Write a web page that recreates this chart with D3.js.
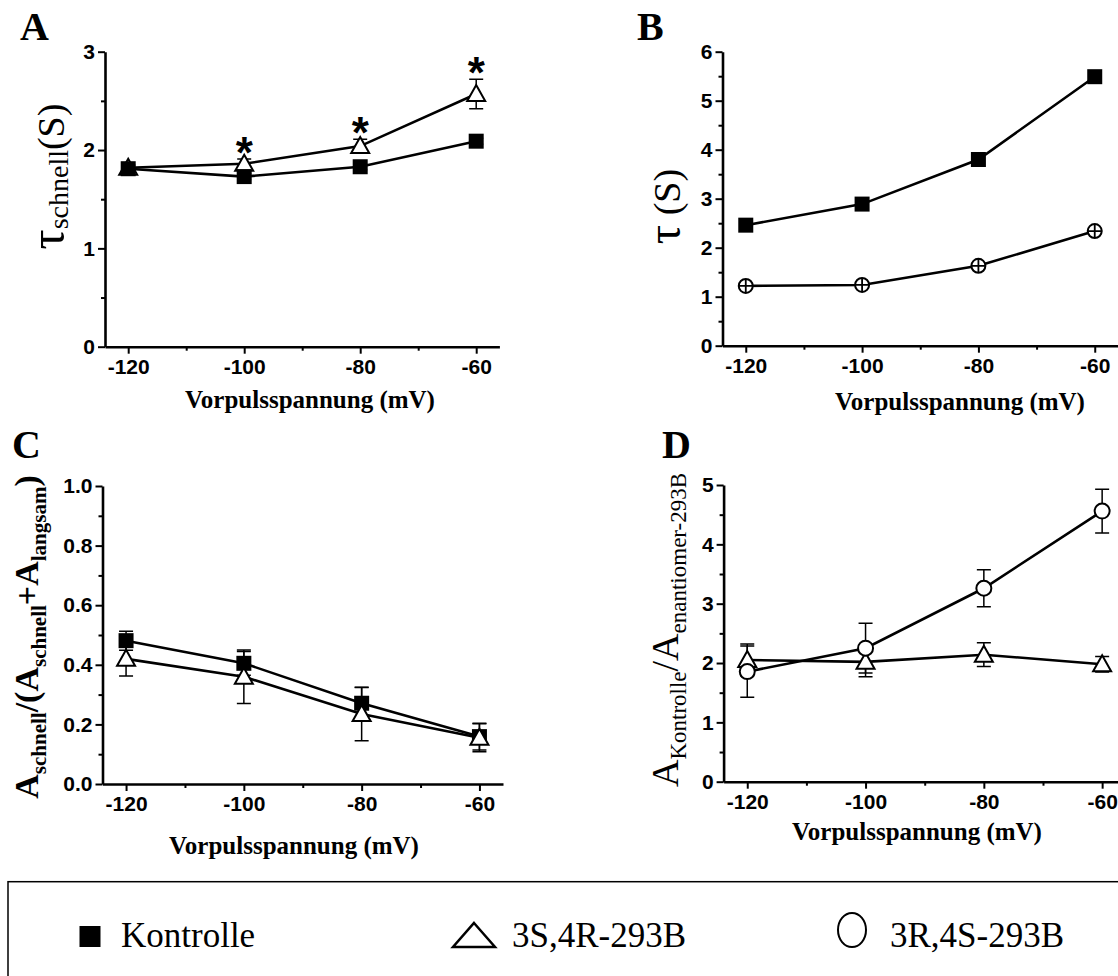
<!DOCTYPE html>
<html><head><meta charset="utf-8">
<script src="https://cdn.jsdelivr.net/npm/d3@7"></script>
<style>body{margin:0;background:#fff}svg{display:block}</style>
</head><body><svg id="c" width="1118" height="976"></svg>
<script>
// ---------- data ----------
const voltages = [-120, -100, -80, -60];
const xTicks = [-120, -100, -80, -60];
const xMinorTicks = [-110, -90, -70];
const xTitle = "Vorpulsspannung (mV)";

// Panel A: tau schnell (s)
const aKontrolle = [1.81, 1.73, 1.83, 2.09];
const aKontrolleErr = [0.03, 0.03, 0.03, 0.03];
const a3S4R = [1.82, 1.86, 2.04, 2.57];
const a3S4RErr = [0.03, 0.05, 0.07, 0.15];
const aSignificant = [false, true, true, true];
const aYTicks = [0, 1, 2, 3];
const aYMinor = [0.5, 1.5, 2.5];

// Panel B: tau (s)
const bKontrolle = [2.46, 2.89, 3.80, 5.49];
const bEnantiomer = [1.22, 1.24, 1.63, 2.34];
const bYTicks = [0, 1, 2, 3, 4, 5, 6];
const bYMinor = [0.5, 1.5, 2.5, 3.5, 4.5, 5.5];

// Panel C: A schnell / (A schnell + A langsam)
const cKontrolle = [0.481, 0.405, 0.271, 0.159];
const cKontrolleErr = [0.032, 0.040, 0.053, 0.045];
const c3S4R = [0.420, 0.360, 0.235, 0.155];
const c3S4RErr = [0.058, 0.090, 0.090, 0.047];
const cYTicks = [0, 0.2, 0.4, 0.6, 0.8, 1.0];
const cYMinor = [0.1, 0.3, 0.5, 0.7, 0.9];

// Panel D: A Kontrolle / A enantiomer-293B
const d3S4R = [2.05, 2.02, 2.14, 1.98];
const d3S4RErr = [0.27, 0.25, 0.20, 0.13];
const d3R4S = [1.855, 2.25, 3.26, 4.56];
const d3R4SErr = [0.43, 0.42, 0.31, 0.37];
const dYTicks = [0, 1, 2, 3, 4, 5];
const dYMinor = [0.5, 1.5, 2.5, 3.5, 4.5];

const legendLabels = ["Kontrolle", "3S,4R-293B", "3R,4S-293B"];

// ---------- drawing ----------
const svg = d3.select("#c");
const SANS = "'Liberation Sans', Arial, sans-serif";
const SERIF = "'Liberation Serif', 'Times New Roman', serif";

function drawMarker(g, type, cx, cy) {
  if (type === "square") {
    g.append("rect").attr("x", cx - 7.5).attr("y", cy - 7.5).attr("width", 15).attr("height", 15).attr("fill", "#000");
  } else if (type === "triangle") {
    g.append("path").attr("d", `M${cx},${cy - 9}L${cx + 9},${cy + 7}L${cx - 9},${cy + 7}Z`)
      .attr("fill", "#fff").attr("stroke", "#000").attr("stroke-width", 2);
  } else if (type === "circle") {
    g.append("circle").attr("cx", cx).attr("cy", cy).attr("r", 7.5)
      .attr("fill", "#fff").attr("stroke", "#000").attr("stroke-width", 2);
  } else if (type === "oplus") {
    g.append("circle").attr("cx", cx).attr("cy", cy).attr("r", 7)
      .attr("fill", "#fff").attr("stroke", "#000").attr("stroke-width", 2);
    g.append("path").attr("d", `M${cx - 7},${cy}H${cx + 7}M${cx},${cy - 7}V${cy + 7}`)
      .attr("stroke", "#000").attr("stroke-width", 1.8);
  }
}

function styleAxis(sel) {
  sel.attr("font-family", SANS).attr("font-size", 21).attr("font-weight", "bold");
  sel.selectAll(".domain").attr("stroke-width", 2.6);
  sel.selectAll(".tick line").attr("stroke-width", 2);
  sel.selectAll(".tick text").attr("fill", "#000");
}

function panel(cfg) {
  const g = svg.append("g");
  const x = d3.scaleLinear().domain([-124, -56]).range(cfg.xr);
  const y = d3.scaleLinear().domain(cfg.yd).range(cfg.yr);
  const y0 = cfg.yr[0];
  const x0 = cfg.xr[0];

  // minor ticks
  g.append("g").attr("transform", `translate(0,${y0})`)
    .call(d3.axisBottom(x).tickValues(xMinorTicks).tickSize(4).tickFormat(""))
    .call(s => { s.select(".domain").remove(); s.selectAll("line").attr("stroke-width", 2); });
  g.append("g").attr("transform", `translate(${x0},0)`)
    .call(d3.axisLeft(y).tickValues(cfg.yMinor).tickSize(4).tickFormat(""))
    .call(s => { s.select(".domain").remove(); s.selectAll("line").attr("stroke-width", 2); });
  // major axes
  g.append("g").attr("transform", `translate(0,${y0})`)
    .call(d3.axisBottom(x).tickValues(xTicks).tickSize(7).tickPadding(5).tickSizeOuter(0).tickFormat(d => String(d)))
    .call(styleAxis);
  g.append("g").attr("transform", `translate(${x0},0)`)
    .call(d3.axisLeft(y).tickValues(cfg.yTicks).tickSize(7).tickPadding(3).tickSizeOuter(0).tickFormat(cfg.fmt))
    .call(styleAxis);

  const line = d3.line().x((d, i) => x(voltages[i])).y(d => y(d));
  // error bars
  cfg.series.forEach(s => {
    if (!s.err) return;
    s.values.forEach((v, i) => {
      const cx = x(voltages[i]);
      const t = y(v + s.err[i]), b = y(v - s.err[i]);
      g.append("path").attr("d", `M${cx},${t}V${b}M${cx - 7},${t}H${cx + 7}M${cx - 7},${b}H${cx + 7}`)
        .attr("stroke", "#000").attr("stroke-width", 1.5).attr("fill", "none");
    });
  });
  // lines
  cfg.series.forEach(s => {
    g.append("path").datum(s.values).attr("d", line)
      .attr("fill", "none").attr("stroke", "#000").attr("stroke-width", 2.6);
  });
  // markers
  cfg.series.forEach(s => {
    s.values.forEach((v, i) => drawMarker(g, s.marker, x(voltages[i]), y(v)));
  });
  if (cfg.after) cfg.after(g, x, y);

  // panel letter
  svg.append("text").attr("x", cfg.letterPos[0]).attr("y", cfg.letterPos[1])
    .attr("font-family", SERIF).attr("font-weight", "bold").attr("font-size", 40).text(cfg.letter);
  // x title
  svg.append("text").attr("x", cfg.xTitlePos[0]).attr("y", cfg.xTitlePos[1])
    .attr("text-anchor", "middle").attr("font-family", SERIF).attr("font-weight", "bold")
    .attr("font-size", 25).text(xTitle);
  return { x, y };
}

// Panel A (triangles drawn first so the squares sit on top)
panel({
  xr: [105, 499.4], yr: [346.7, 51.7], yd: [0, 3], yTicks: aYTicks, yMinor: aYMinor, fmt: d => String(d),
  series: [
    { values: a3S4R, err: a3S4RErr, marker: "triangle" },
    { values: aKontrolle, err: aKontrolleErr, marker: "square" }
  ],
  after: (g, x, y) => {
    a3S4R.forEach((v, i) => {
      if (!aSignificant[i]) return;
      g.append("text").attr("x", x(voltages[i])).attr("y", y(v + a3S4RErr[i]) + 9)
        .attr("text-anchor", "middle").attr("font-family", SANS).attr("font-weight", "bold")
        .attr("font-size", 44).text("*");
    });
  },
  letter: "A", letterPos: [20, 40], xTitlePos: [310, 408]
});

// Panel B
panel({
  xr: [722.5, 1118], yr: [345.7, 51.7], yd: [0, 6], yTicks: bYTicks, yMinor: bYMinor, fmt: d => String(d),
  series: [
    { values: bKontrolle, marker: "square" },
    { values: bEnantiomer, marker: "oplus" }
  ],
  letter: "B", letterPos: [637, 40], xTitlePos: [960, 410]
});

// Panel C
panel({
  xr: [102.5, 503], yr: [784, 486], yd: [0, 1], yTicks: cYTicks, yMinor: cYMinor, fmt: d3.format(".1f"),
  series: [
    { values: cKontrolle, err: cKontrolleErr, marker: "square" },
    { values: c3S4R, err: c3S4RErr, marker: "triangle" }
  ],
  letter: "C", letterPos: [12, 458], xTitlePos: [294, 854]
});

// Panel D
panel({
  xr: [723.6, 1125.8], yr: [781.7, 485], yd: [0, 5], yTicks: dYTicks, yMinor: dYMinor, fmt: d => String(d),
  series: [
    { values: d3S4R, err: d3S4RErr, marker: "triangle" },
    { values: d3R4S, err: d3R4SErr, marker: "circle" }
  ],
  letter: "D", letterPos: [662, 458], xTitlePos: [917, 840]
});

// ---------- y-axis titles ----------
function yTitle(cx, cy, parts, bold) {
  const t = svg.append("text").attr("transform", `translate(${cx},${cy}) rotate(-90)`)
    .attr("text-anchor", "middle").attr("font-family", SERIF).attr("fill", "#000");
  if (bold) t.attr("font-weight", "bold");
  parts.forEach(p => {
    t.append("tspan").attr("font-size", p.size).attr("dy", p.dy || 0).text(p.t);
  });
}
yTitle(64, 176.5, [
  { t: "τ", size: 50 }, { t: "schnell", size: 28, dy: 4 }, { t: "(S)", size: 38, dy: -4 }
]);
yTitle(680, 206.5, [
  { t: "τ", size: 48 }, { t: " (S)", size: 38 }
]);
yTitle(38, 637, [
  { t: "A", size: 34 }, { t: "schnell", size: 21, dy: 8 }, { t: "/(A", size: 34, dy: -8 },
  { t: "schnell", size: 21, dy: 8 }, { t: "+A", size: 34, dy: -8 }, { t: "langsam", size: 21, dy: 8 },
  { t: ")", size: 34, dy: -8 }
], true);
yTitle(678, 630, [
  { t: "A", size: 38 }, { t: "Kontrolle", size: 23, dy: 8 }, { t: "/A", size: 38, dy: -8 },
  { t: "enantiomer-293B", size: 23, dy: 8 }
]);

// ---------- legend ----------
const lg = svg.append("g");
lg.append("rect").attr("x", 8).attr("y", 881.7).attr("width", 1200).attr("height", 200)
  .attr("fill", "none").attr("stroke", "#000").attr("stroke-width", 1.5);
const legendItems = [
  { marker: "square", mx: 90, tx: 121 },
  { marker: "triangle", mx: 474, tx: 512 },
  { marker: "ellipse", mx: 852, tx: 890 }
];
legendItems.forEach((it, i) => {
  if (it.marker === "square") {
    lg.append("rect").attr("x", it.mx - 10.5).attr("y", 926).attr("width", 21).attr("height", 21).attr("fill", "#000");
  } else if (it.marker === "triangle") {
    lg.append("path").attr("d", `M${it.mx},${923}L${it.mx + 21},${947}L${it.mx - 21},${947}Z`)
      .attr("fill", "#fff").attr("stroke", "#000").attr("stroke-width", 2.5);
  } else {
    lg.append("ellipse").attr("cx", it.mx).attr("cy", 930).attr("rx", 14).attr("ry", 17)
      .attr("fill", "#fff").attr("stroke", "#000").attr("stroke-width", 2);
  }
  lg.append("text").attr("x", it.tx).attr("y", 947).attr("font-family", SERIF)
    .attr("font-size", 35).text(legendLabels[i]);
});
</script></body></html>
